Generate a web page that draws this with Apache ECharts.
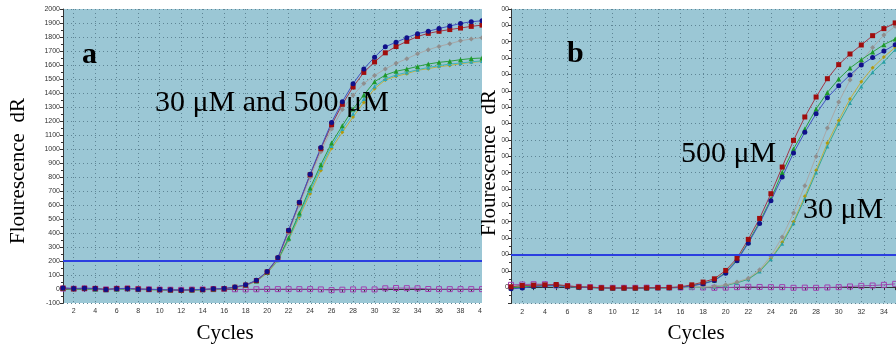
<!DOCTYPE html>
<html>
<head>
<meta charset="utf-8">
<script src="https://cdn.jsdelivr.net/npm/echarts@6/dist/echarts.min.js"></script>
<style>
  html, body { margin: 0; padding: 0; background: #ffffff; }
  #chart { width: 896px; height: 349px; }
</style>
</head>
<body>
<div id="chart"></div>
<script>
// Amplification cycles (x categories)
const cycles = ['1','2','3','4','5','6','7','8','9','10','11','12','13','14','15','16','17','18','19','20',
                '21','22','23','24','25','26','27','28','29','30','31','32','33','34','35','36','37','38','39','40'];

// Panel a: fluorescence dR per cycle
const aBlue   = [8, 4, 6, 3, -4, 2, 4, -1, -2, -4, -6, -8, -5, -3, 1, 3, 14, 30, 62, 125, 225, 420, 620, 820, 1010, 1190, 1338, 1466, 1572, 1656, 1730, 1763, 1795, 1824, 1841, 1861, 1878, 1897, 1909, 1916];
const aRed    = [6, 2, 5, 4, -3, 3, 5, 0, -3, -5, -7, -9, -6, -4, 0, 2, 13, 28, 60, 122, 220, 416, 616, 816, 1002, 1173, 1319, 1443, 1547, 1622, 1687, 1732, 1769, 1804, 1826, 1841, 1853, 1864, 1876, 1885];
const aGray   = [5, 3, 4, 2, -4, 1, 3, -1, -3, -4, -7, -8, -6, -4, 0, 1, 12, 27, 58, 118, 212, 400, 598, 796, 980, 1143, 1282, 1384, 1468, 1525, 1572, 1612, 1645, 1680, 1709, 1733, 1752, 1773, 1786, 1795];
const aGreen  = [4, 1, 3, 0, -5, 0, 2, -2, -4, -5, -8, -10, -7, -5, -1, 1, 12, 28, 58, 118, 210, 365, 543, 721, 888, 1043, 1166, 1286, 1386, 1481, 1528, 1555, 1571, 1590, 1607, 1619, 1627, 1638, 1646, 1650];
const aTeal   = [3, 0, 2, -1, -6, -1, 1, -3, -5, -6, -9, -11, -8, -6, -2, 0, 11, 26, 56, 115, 206, 355, 530, 701, 866, 1022, 1143, 1252, 1357, 1447, 1500, 1529, 1547, 1566, 1583, 1595, 1607, 1614, 1623, 1629];
const aYellow = [2, -1, 1, -2, -7, -2, 0, -4, -6, -7, -10, -12, -9, -7, -3, -1, 10, 25, 54, 112, 202, 348, 516, 681, 847, 1004, 1119, 1229, 1333, 1431, 1493, 1519, 1538, 1562, 1574, 1588, 1597, 1609, 1619, 1625];
const aNtc    = [3, 2, 4, 1, -3, 2, 3, -1, -2, -4, -5, -6, -4, -3, -1, 0, -2, -3, -2, -1, -1, -1, -1, -1, -3, -8, -5, -3, -3, -3, 5, 7, 6, 5, 0, -1, -1, -1, -1, -1];

// Panel b: fluorescence dR per cycle (cycles 1-35)
const bRed    = [2, 10, 12, 14, 16, 8, 2, 0, -4, -5, -5, -5, -4, -3, -2, 2, 14, 31, 51, 102, 177, 292, 420, 571, 734, 897, 1040, 1162, 1274, 1360, 1425, 1480, 1537, 1580, 1615];
const bBlue   = [-10, -6, 4, 8, 10, 4, 0, -2, -5, -6, -6, -6, -5, -4, -4, -2, 8, 20, 40, 85, 161, 269, 389, 528, 673, 820, 946, 1060, 1158, 1231, 1297, 1358, 1404, 1443, 1482];
const bGreen  = [-4, 0, 6, 10, 12, 6, 0, -2, -5, -6, -6, -6, -5, -4, -3, -1, 10, 22, 42, 90, 165, 275, 398, 538, 701, 844, 966, 1089, 1190, 1272, 1339, 1390, 1437, 1482, 1517];
const bGray   = [4, 8, 10, 12, 12, 6, 2, 0, -3, -4, -5, -5, -4, -3, -2, -1, 0, 3, 6, 14, 32, 55, 106, 190, 306, 453, 620, 799, 972, 1131, 1266, 1378, 1465, 1541, 1594];
const bYellow = [2, 6, 8, 10, 10, 4, 0, -2, -4, -5, -6, -6, -5, -4, -3, -2, -1, 1, 4, 12, 28, 50, 98, 175, 275, 400, 555, 715, 881, 1019, 1150, 1256, 1341, 1407, 1465];
const bTeal   = [0, 4, 6, 8, 8, 3, -1, -3, -5, -6, -7, -7, -6, -5, -4, -3, -2, 0, 3, 10, 26, 48, 95, 170, 265, 390, 540, 700, 860, 1000, 1125, 1227, 1314, 1378, 1451];
const bNtc    = [14, 16, 18, 18, 10, 6, 2, 0, -4, -4, -4, -4, -3, -3, -3, -2, 0, -2, -4, -3, 0, 2, 1, 0, 0, -4, -3, -4, -2, 0, 4, 8, 10, 14, 20];

// Threshold level
const threshold = 200;

const PLOT_BG = '#9bc7d5';
const GRID_LINE = '#5e8595';
const everyOther = (idx) => idx % 2 === 1;

function xAxisFor(gridIndex) {
  return {
    type: 'category', gridIndex, data: cycles, boundaryGap: false,
    axisLine: { lineStyle: { color: '#333', width: 1 } },
    axisTick: { show: true, interval: 0, length: 3, lineStyle: { color: '#333' } },
    axisLabel: { interval: everyOther, fontSize: 7, color: '#333', margin: 5, fontFamily: 'Liberation Sans' },
    splitLine: { show: true, interval: everyOther, lineStyle: { color: GRID_LINE, type: [1, 3], width: 1 } }
  };
}
function yAxisFor(gridIndex, max, showMin, margin) {
  return {
    type: 'value', gridIndex, min: -100, max, interval: 100,
    axisLine: { show: true, lineStyle: { color: '#333', width: 1 } },
    axisTick: { show: true, length: 3, lineStyle: { color: '#333' } },
    minorTick: { show: true, splitNumber: 2, length: 2, lineStyle: { color: '#333' } },
    axisLabel: { fontSize: 7, color: '#333', margin, fontFamily: 'Liberation Sans', showMinLabel: showMin,
                 formatter: (v) => String(v) },
    splitLine: { show: true, lineStyle: { color: GRID_LINE, type: [1, 3], width: 1 } }
  };
}

function curve(data, idx, lineColor, markColor, symbol, size) {
  return {
    type: 'line', data, xAxisIndex: idx, yAxisIndex: idx,
    symbol, symbolSize: size, showSymbol: true,
    lineStyle: { color: lineColor, width: 1 },
    itemStyle: { color: markColor },
    emphasis: { disabled: true }, z: 3
  };
}
function ntc(data, idx) {
  return {
    type: 'line', data, xAxisIndex: idx, yAxisIndex: idx,
    symbol: 'rect', symbolSize: 5,
    lineStyle: { color: '#9a4aa8', width: 1 },
    itemStyle: { color: 'rgba(0,0,0,0)', borderColor: '#a040b0', borderWidth: 1 },
    emphasis: { disabled: true }, z: 2,
    markLine: {
      silent: true, symbol: 'none', label: { show: false },
      lineStyle: { color: '#2b3fe0', width: 2, type: 'solid' },
      data: [{ yAxis: threshold }]
    }
  };
}

const serif = 'Liberation Serif';
// text element centred vertically on y
function txt(x, y, text, size, opts, extra) {
  return Object.assign({
    type: 'text', x, y, z: 120,
    style: Object.assign({ text, font: `${size}px "${serif}"`, fill: '#000', verticalAlign: 'middle', align: 'left' }, opts || {})
  }, extra || {});
}

const chart = echarts.init(document.getElementById('chart'), null, { renderer: 'canvas' });
chart.setOption({
  animation: false,
  backgroundColor: '#ffffff',
  grid: [
    { left: 63, top: 9, width: 419, height: 294, show: true, backgroundColor: PLOT_BG, borderWidth: 0,
      outerBoundsMode: 'none', containLabel: false },
    { left: 511, top: 9, width: 440.7, height: 294.5, show: true, backgroundColor: PLOT_BG, borderWidth: 0,
      outerBoundsMode: 'none', containLabel: false }
  ],
  xAxis: [xAxisFor(0), xAxisFor(1)],
  yAxis: [yAxisFor(0, 2000, true, 3), yAxisFor(1, 1700, false, 2)],
  series: [
    ntc(aNtc, 0),
    curve(aYellow, 0, '#c0b040', '#b09a10', 'diamond', 4),
    curve(aTeal,   0, '#3cb4c0', '#2aa6b4', 'triangle', 4),
    curve(aGreen,  0, '#2aa040', '#1f9a2a', 'triangle', 5),
    curve(aGray,   0, '#a8a8a8', '#8f8f8f', 'diamond', 5),
    curve(aRed,    0, '#a03848', '#a00d0d', 'rect', 5),
    curve(aBlue,   0, '#4050c0', '#10108a', 'circle', 5),
    ntc(bNtc, 1),
    curve(bYellow, 1, '#c0b040', '#b09a10', 'diamond', 4),
    curve(bTeal,   1, '#3aa890', '#2aa0a8', 'triangle', 4),
    curve(bGray,   1, '#a8a8a8', '#8f8f8f', 'diamond', 5),
    curve(bGreen,  1, '#2aa040', '#1f9a2a', 'triangle', 5),
    curve(bBlue,   1, '#4050c0', '#10108a', 'circle', 5),
    curve(bRed,    1, '#a03848', '#a00d0d', 'rect', 5)
  ],
  graphic: [
    // gap between the two panels
    { type: 'rect', z: 100, shape: { x: 482, y: 0, width: 19.5, height: 349 }, style: { fill: '#ffffff' } },
    // axis titles
    txt(18, 171, 'Flourescence  dR', 21, { align: 'center' }, { rotation: Math.PI / 2 }),
    txt(489, 163, 'Flourescence  dR', 21, { align: 'center' }, { rotation: Math.PI / 2 }),
    txt(225, 333, 'Cycles', 21, { align: 'center' }),
    txt(696, 333, 'Cycles', 21, { align: 'center' }),
    // panel letters
    txt(82, 55, 'a', 30, { font: `bold 30px "${serif}"` }),
    txt(567, 54, 'b', 30, { font: `bold 30px "${serif}"` }),
    // concentration labels
    txt(155, 103, '30 μM and 500 μM', 30),
    txt(681, 154, '500 μM', 30),
    txt(803, 210, '30 μM', 30)
  ]
});
</script>
</body>
</html>
